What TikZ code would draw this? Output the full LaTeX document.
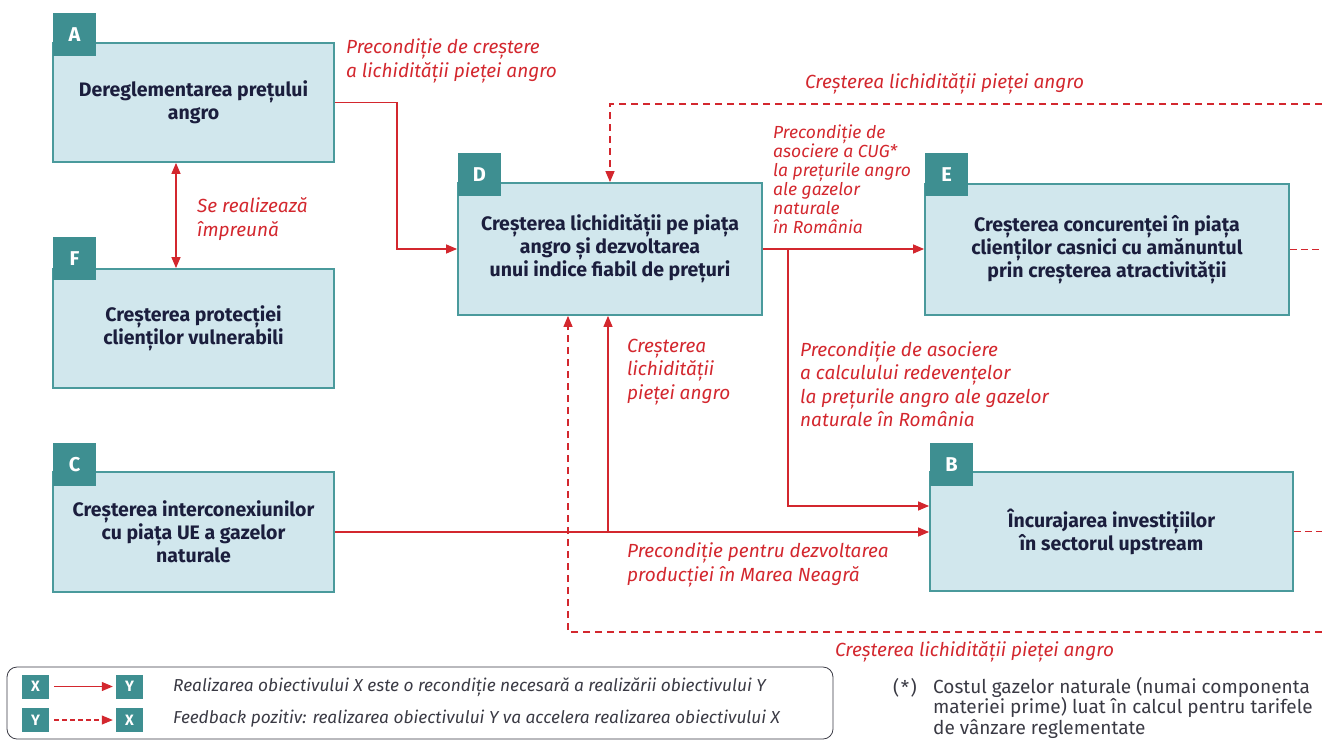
\documentclass[tikz,border=0pt]{standalone}
\usepackage{fontspec}
\setmainfont{Fira Sans}
\usetikzlibrary{arrows.meta}
\definecolor{linkred}{HTML}{D3272E}
\definecolor{boxfill}{HTML}{D1E7ED}
\definecolor{boxedge}{HTML}{4A9A9C}
\definecolor{tagfill}{HTML}{3E8F91}
\definecolor{boxtext}{HTML}{1B1E3D}
\definecolor{legendtext}{HTML}{3A3A44}
\tikzset{
  goal/.style={draw=boxedge, fill=boxfill, line width=1.8pt, inner sep=4pt,
    align=center, text=boxtext, font=\bfseries\fontsize{19.5}{23}\selectfont},
  tagbox/.style={fill=tagfill, text=white, minimum width=43pt, minimum height=43pt,
    inner sep=0pt, font=\bfseries\fontsize{20}{22}\selectfont},
  minitag/.style={fill=tagfill, text=white, minimum width=27pt, minimum height=24pt,
    inner sep=0pt, font=\bfseries\fontsize{15}{17}\selectfont},
  link/.style={draw=linkred, line width=1.3pt, -{Triangle[length=11pt,width=9pt]}},
  feedback/.style={draw=linkred, line width=1.3pt, dash pattern=on 7pt off 5pt,
    -{Triangle[length=11pt,width=9pt]}},
  feedplain/.style={draw=linkred, line width=1.3pt, dash pattern=on 7pt off 4pt},
  note/.style={text=linkred, align=left, anchor=west, inner sep=0pt,
    font=\itshape\fontsize{19}{23.5}\selectfont},
  legendnote/.style={anchor=west, inner sep=0pt, text=legendtext,
    font=\itshape\fontsize{17.3}{19}\selectfont},
  footnote/.style={inner sep=0pt, text=legendtext, align=left,
    font=\fontsize{19}{20.5}\selectfont},
}
\begin{document}
\begin{tikzpicture}[x=1pt,y=-1pt]
\useasboundingbox (0,0) rectangle (1322,740);

% objective boxes
\node[goal, minimum width=281pt, minimum height=119pt] (A) at (193.5,102.5)
  {Dereglementarea prețului\\angro};
\node[goal, minimum width=281pt, minimum height=119pt] (F) at (193.5,328.5)
  {Creșterea protecției\\clienților vulnerabili};
\node[goal, minimum width=281pt, minimum height=120pt] (C) at (193.5,532)
  {Creșterea interconexiunilor\\cu piața UE a gazelor\\naturale};
\node[goal, minimum width=304pt, minimum height=132pt] (D) at (610,249)
  {Creșterea lichidității pe piața\\angro și dezvoltarea\\unui indice fiabil de prețuri};
\node[goal, minimum width=364pt, minimum height=131pt] (E) at (1107,249.5)
  {Creșterea concurenței în piața\\clienților casnici cu amănuntul\\prin creșterea atractivității};
\node[goal, minimum width=363pt, minimum height=119pt] (B) at (1111.5,531.5)
  {Încurajarea investițiilor\\în sectorul upstream};

% letter tags
\node[tagbox] (tA) at (74.5,34.5) {A};
\node[tagbox] (tF) at (74.5,258.5) {F};
\node[tagbox] (tC) at (74.5,464.5) {C};
\node[tagbox] (tD) at (479.5,174.5) {D};
\node[tagbox] (tE) at (946.5,174.5) {E};
\node[tagbox] (tB) at (951.5,464.5) {B};

% free ends running off the right edge
\coordinate (topR) at (1322,104);
\coordinate (botR) at (1322,632);
\coordinate (eR) at (1322,249.5);
\coordinate (bR) at (1322,531.5);

% preconditions (solid)
\draw[link] (A.east) -- (397,102.5) |- (D.west);
\draw[linkred, line width=1.3pt, {Triangle[length=11pt,width=9pt]}-{Triangle[length=11pt,width=9pt]}]
  (A.south) ++(-17.5,0) coordinate (aS) -- (aS |- F.north);
\draw[link] (D.east) -- (E.west |- D.east);
\draw[link] (788,249) |- (B.west |- 0,506);
\draw[link] (C.east) -- (B.west |- C.east);
\draw[link] (608,532) -- (608,0 |- D.south);

% positive feedback (dashed)
\draw[feedback] (topR) -| (D.north);
\draw[feedback] (botR) -| (568,0 |- D.south);
\draw[feedplain] (E.east) -- (eR);
\draw[feedplain] (B.east) -- (bR);

% link labels
\node[note] (n1) at (346,61) {Precondiție de creștere\\a lichidității pieței angro};
\node[note] (n2) at (805,84) {Creșterea lichidității pieței angro};
\node[note, font=\itshape\fontsize{17.5}{19}\selectfont] (n3) at (773,179)
  {Precondiție de\\asociere a CUG*\\la prețurile angro\\ale gazelor\\naturale\\în România};
\node[note] (n4) at (197,219) {Se realizează\\împreună};
\node[note] (n5) at (627,372) {Creșterea\\lichidității\\pieței angro};
\node[note] (n6) at (800,384) {Precondiție de asociere\\a calculului redevențelor\\la prețurile angro ale gazelor\\naturale în România};
\node[note] (n7) at (627,565) {Precondiție pentru dezvoltarea\\producției în Marea Neagră};
\node[note] (n8) at (835,652) {Creșterea lichidității pieței angro};

% legend
\draw[draw=legendtext, line width=0.8pt, rounded corners=10pt] (7,667) rectangle (833,739);
\node[minitag] (lx1) at (35.5,686.5) {X};
\node[minitag] (ly1) at (129.5,686.5) {Y};
\node[minitag] (ly2) at (35.5,720) {Y};
\node[minitag] (lx2) at (129.5,720) {X};
\draw[link, line width=1.1pt, shorten <=5pt, shorten >=3pt] (lx1) -- (ly1);
\draw[feedback, line width=1.1pt, dash pattern=on 5pt off 3pt, shorten <=5pt, shorten >=3pt] (ly2) -- (lx2);
\node[legendnote] (lt1) at (173,687)
  {Realizarea obiectivului X este o recondiție necesară a realizării obiectivului Y};
\node[legendnote] (lt2) at (173,719)
  {Feedback pozitiv: realizarea obiectivului Y va accelera realizarea obiectivului X};

% footnote
\node[footnote, anchor=west] (fs) at (893,688) {({\kern1.5pt}*{\kern1.5pt})};
\node[footnote, anchor=north west] (ft) at (933,677)
  {Costul gazelor naturale (numai componenta\\materiei prime) luat în calcul pentru tarifele\\de vânzare reglementate};
\end{tikzpicture}
\end{document}
